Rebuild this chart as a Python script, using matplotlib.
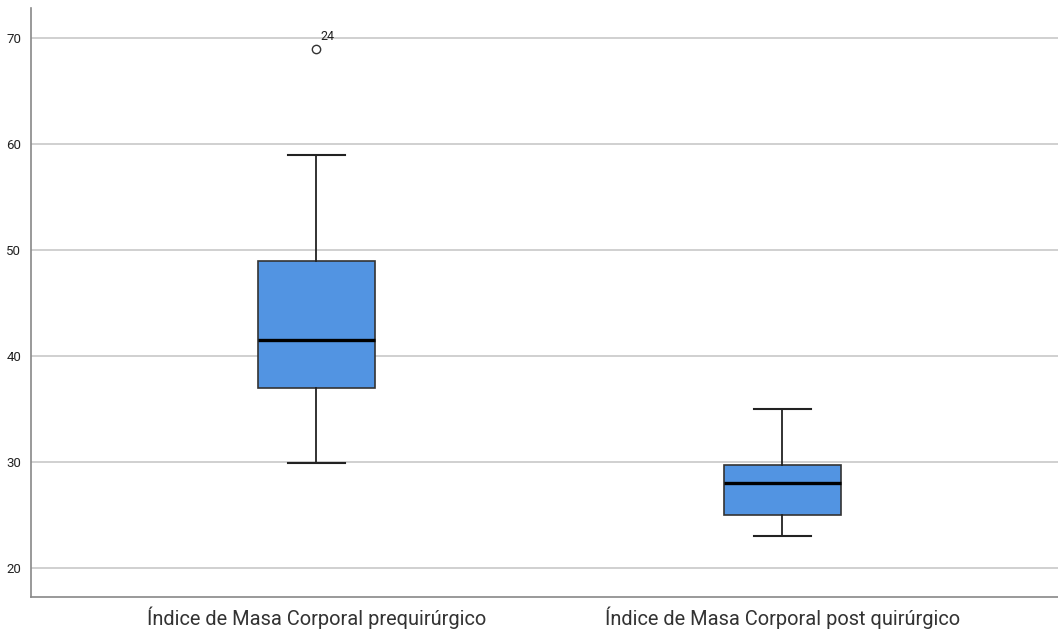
import matplotlib
matplotlib.use("Agg")
import matplotlib.pyplot as plt

plt.rcParams["font.family"] = ["Roboto", "DejaVu Sans"]

# five-number summaries per group
labels = ["Índice de Masa Corporal prequirúrgico",
          "Índice de Masa Corporal post quirúrgico"]
whislo = [29.9, 23.0]
q1 = [37.0, 25.0]
med = [41.5, 28.0]
q3 = [49.0, 29.7]
whishi = [59.0, 35.0]
fliers = [[69.0], []]
flier_ids = [["24"], []]

yticks = [20, 30, 40, 50, 60, 70]

stats = []
for i in range(len(labels)):
    stats.append({"label": labels[i], "whislo": whislo[i], "q1": q1[i],
                  "med": med[i], "q3": q3[i], "whishi": whishi[i],
                  "fliers": fliers[i]})

fig = plt.figure(figsize=(10.58, 6.33), dpi=100)
ax = fig.add_axes([0.0293, 0.0569, 0.9707, 0.9305])

positions = [1, 2]
ax.bxp(stats, positions=positions, widths=0.251, patch_artist=True,
       capwidths=0.122,
       boxprops=dict(facecolor="#5294e2", edgecolor="#333333", linewidth=1.2),
       medianprops=dict(color="black", linewidth=2.4),
       whiskerprops=dict(color="#222222", linewidth=1.3),
       capprops=dict(color="#222222", linewidth=1.5),
       flierprops=dict(marker="o", markerfacecolor="white",
                       markeredgecolor="#333333", markersize=6,
                       markeredgewidth=1.0),
       zorder=3)

# case numbers next to outliers
for pos, vals, ids in zip(positions, fliers, flier_ids):
    for v, t in zip(vals, ids):
        ax.annotate(t, (pos, v), xytext=(3, 6), textcoords="offset points",
                    fontsize=9, color="#222222")

ax.set_xlim(0.388, 2.592)
ax.set_ylim(17.26, 72.83)
ax.set_yticks(yticks)
ax.yaxis.grid(True, color="#c8c8c8", linewidth=1.2)
ax.set_axisbelow(True)
ax.tick_params(axis="y", length=0, labelsize=9.5, pad=7, labelcolor="#222222")
ax.tick_params(axis="x", length=0, labelsize=14.4, pad=7, labelcolor="#333333")

for side in ["top", "right"]:
    ax.spines[side].set_visible(False)
for side in ["left", "bottom"]:
    ax.spines[side].set_color("#888888")
    ax.spines[side].set_linewidth(1.2)

fig.savefig("out.png", dpi=100)
